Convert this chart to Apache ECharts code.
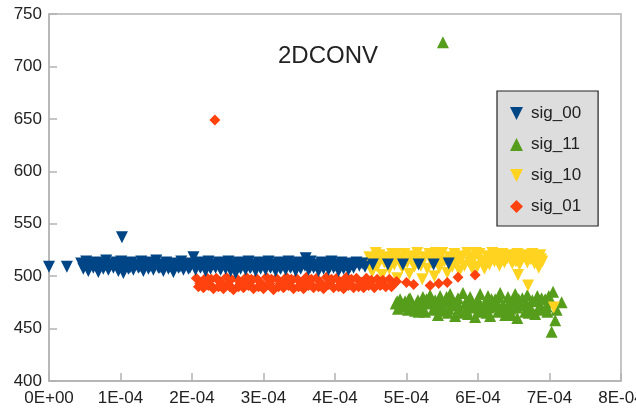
<!DOCTYPE html>
<html>
<head>
<meta charset="utf-8">
<script src="https://cdn.jsdelivr.net/npm/echarts@6/dist/echarts.min.js"></script>
<style>
  html, body { margin: 0; padding: 0; background: #fff; }
  #chart { width: 636px; height: 414px; }
</style>
</head>
<body>
<div id="chart"></div>
<script>
// x values are in units of 1E-04
const xTicks = ['0E+00', '1E-04', '2E-04', '3E-04', '4E-04', '5E-04', '6E-04', '7E-04', '8E-04']
const yTicks = [400, 450, 500, 550, 600, 650, 700, 750]

const sig00 = [
  [0.0, 509], [0.25, 509], [1.02, 537],
  [0.45, 512], [0.48, 507], [0.52, 514], [0.55, 505], [0.59, 511], [0.62, 508], [0.66, 513],
  [0.69, 504], [0.73, 512], [0.76, 507], [0.80, 515], [0.83, 506], [0.87, 511], [0.90, 508],
  [0.94, 513], [0.97, 505], [1.01, 514], [1.04, 503], [1.08, 512], [1.11, 507], [1.15, 513],
  [1.18, 506], [1.22, 511], [1.25, 508], [1.29, 514], [1.32, 505], [1.36, 512], [1.39, 507],
  [1.43, 513], [1.46, 506], [1.50, 515], [1.53, 508], [1.57, 511], [1.60, 505], [1.64, 513],
  [1.67, 507], [1.71, 512], [1.74, 504], [1.78, 511], [1.81, 508], [1.85, 514], [1.88, 506],
  [1.92, 512], [1.95, 507], [1.99, 511], [2.02, 518], [2.05, 506], [2.09, 513], [2.12, 508],
  [2.16, 512], [2.19, 505], [2.23, 514], [2.26, 507], [2.30, 511], [2.33, 508], [2.37, 513],
  [2.40, 506], [2.44, 512], [2.47, 507], [2.51, 514], [2.54, 505], [2.58, 511], [2.61, 503],
  [2.65, 513], [2.68, 507], [2.72, 512], [2.75, 506], [2.79, 514], [2.82, 508], [2.86, 511],
  [2.89, 505], [2.93, 513], [2.96, 507], [3.00, 512], [3.03, 506], [3.07, 514], [3.10, 508],
  [3.14, 511], [3.17, 505], [3.21, 513], [3.24, 507], [3.28, 512], [3.31, 506], [3.35, 514],
  [3.38, 508], [3.42, 511], [3.45, 505], [3.49, 513], [3.52, 507], [3.56, 512], [3.59, 517],
  [3.63, 506], [3.66, 514], [3.70, 508], [3.73, 511], [3.77, 505], [3.81, 513], [3.84, 507],
  [3.88, 512], [3.91, 506], [3.95, 514], [3.98, 508], [4.02, 511], [4.05, 505], [4.09, 513],
  [4.12, 507], [4.16, 512], [4.19, 506], [4.23, 511], [4.26, 508], [4.30, 513], [4.34, 510],
  [4.38, 512], [4.42, 509],
  [0.50, 510], [0.57, 509], [0.64, 511], [0.71, 508], [0.78, 510], [0.85, 509], [0.92, 511],
  [0.99, 509], [1.06, 510], [1.13, 508], [1.20, 510], [1.27, 509], [1.34, 511], [1.41, 509],
  [1.48, 510], [1.55, 508], [1.62, 510], [1.69, 509], [1.76, 511], [1.83, 509], [1.90, 510],
  [1.97, 508], [2.04, 510], [2.11, 509], [2.18, 511], [2.25, 509], [2.32, 510], [2.39, 508],
  [2.46, 510], [2.53, 509], [2.60, 511], [2.67, 509], [2.74, 510], [2.81, 508], [2.88, 510],
  [2.95, 509], [3.02, 511], [3.09, 509], [3.16, 510], [3.23, 508], [3.30, 510], [3.37, 509],
  [3.44, 511], [3.51, 509], [3.58, 510], [3.65, 508], [3.72, 510], [3.79, 509], [3.86, 511],
  [3.93, 509], [4.00, 510], [4.07, 508], [4.14, 510], [4.21, 509], [4.28, 511],
  [4.53, 511], [4.74, 511], [4.95, 511], [5.17, 511], [5.38, 511], [5.59, 512]
]

const sig11 = [
  [5.51, 723], [7.03, 447], [7.05, 485], [7.08, 458], [7.17, 475], [7.10, 468],
  [4.85, 474], [4.88, 469], [4.91, 478], [4.95, 471], [4.98, 476], [5.02, 468], [5.05, 479],
  [5.09, 472], [5.12, 467], [5.16, 477], [5.19, 470], [5.23, 480], [5.26, 466], [5.30, 474],
  [5.33, 482], [5.37, 468], [5.40, 477], [5.44, 463], [5.47, 481], [5.51, 471], [5.54, 476],
  [5.58, 465], [5.61, 483], [5.65, 472], [5.68, 462], [5.72, 479], [5.75, 469], [5.79, 484],
  [5.82, 474], [5.86, 464], [5.89, 480], [5.93, 470], [5.96, 461], [6.00, 477], [6.03, 483],
  [6.07, 467], [6.10, 474], [6.14, 481], [6.17, 462], [6.21, 471], [6.24, 478], [6.28, 466],
  [6.31, 484], [6.35, 473], [6.38, 463], [6.42, 480], [6.45, 469], [6.49, 476], [6.52, 483],
  [6.55, 460], [6.59, 472], [6.62, 479], [6.66, 466], [6.69, 482], [6.73, 470], [6.76, 477],
  [6.80, 464], [6.83, 481], [6.87, 472], [6.90, 468], [6.94, 478], [6.97, 466], [7.00, 475],
  [4.87, 476], [5.00, 473], [5.14, 474], [5.28, 478], [5.42, 470], [5.56, 480], [5.70, 475],
  [5.84, 468], [5.98, 472], [6.12, 465], [6.26, 474], [6.40, 467], [6.54, 470], [6.68, 474],
  [6.82, 476], [6.96, 471],
  [4.93, 473], [5.07, 475], [5.21, 472], [5.35, 476], [5.49, 467], [5.63, 477], [5.77, 465],
  [5.91, 476], [6.05, 471], [6.19, 478], [6.33, 469], [6.47, 463], [6.61, 475], [6.75, 467],
  [6.89, 479], [5.03, 478], [5.17, 466], [5.45, 474], [5.59, 469], [5.87, 472], [6.01, 466],
  [6.15, 470], [6.29, 480], [6.43, 474], [6.57, 478], [6.71, 465], [6.85, 469], [6.99, 481]
]

const sig10 = [
  [4.45, 512], [4.48, 518], [4.52, 504], [4.55, 515], [4.59, 509], [4.62, 520], [4.66, 501],
  [4.69, 513], [4.73, 518], [4.76, 507], [4.80, 521], [4.83, 511], [4.87, 498], [4.90, 517],
  [4.94, 508], [4.97, 521], [5.01, 513], [5.04, 502], [5.08, 519], [5.11, 509], [5.15, 522],
  [5.18, 514], [5.22, 497], [5.25, 518], [5.29, 507], [5.32, 521], [5.36, 512], [5.39, 500],
  [5.43, 519], [5.46, 508], [5.50, 522], [5.53, 514], [5.57, 503], [5.60, 518], [5.64, 509],
  [5.67, 521], [5.71, 512], [5.74, 505], [5.78, 519], [5.81, 510], [5.85, 522], [5.88, 513],
  [5.92, 507], [5.95, 518], [5.99, 509], [6.02, 521], [6.06, 512], [6.09, 507], [6.13, 519],
  [6.16, 511], [6.20, 522], [6.23, 514], [6.27, 518], [6.30, 510], [6.34, 521], [6.37, 513],
  [6.41, 517], [6.44, 520], [6.48, 512], [6.51, 518], [6.55, 521], [6.58, 511], [6.62, 517],
  [6.65, 520], [6.69, 513], [6.72, 518], [6.76, 521], [6.79, 512], [6.83, 517], [6.87, 520],
  [6.90, 514],
  [4.50, 510], [4.64, 516], [4.78, 514], [4.92, 511], [5.06, 516], [5.20, 510], [5.34, 516],
  [5.48, 514], [5.62, 513], [5.76, 516], [5.90, 517], [6.04, 515], [6.18, 516], [6.32, 517],
  [6.46, 515], [6.60, 514], [6.74, 516], [6.88, 516], [4.57, 522], [4.85, 521], [5.13, 518],
  [5.41, 522], [5.69, 517], [5.97, 522], [6.25, 521], [6.53, 514],
  [6.56, 501], [6.70, 491], [6.85, 508], [7.06, 470]
]

const sig01 = [
  [2.32, 649],
  [2.06, 498], [2.09, 490], [2.13, 494], [2.16, 489], [2.20, 499], [2.23, 491], [2.27, 497],
  [2.30, 488], [2.34, 498], [2.37, 490], [2.41, 493], [2.44, 488], [2.48, 499], [2.51, 492],
  [2.55, 497], [2.58, 487], [2.62, 498], [2.65, 490], [2.69, 494], [2.72, 489], [2.76, 499],
  [2.79, 491], [2.83, 497], [2.86, 488], [2.90, 498], [2.93, 490], [2.97, 493], [3.00, 488],
  [3.04, 499], [3.07, 492], [3.11, 497], [3.14, 487], [3.18, 498], [3.21, 490], [3.25, 494],
  [3.28, 489], [3.32, 499], [3.35, 491], [3.39, 497], [3.42, 488], [3.46, 498], [3.49, 490],
  [3.53, 494], [3.56, 488], [3.60, 499], [3.63, 491], [3.67, 497], [3.70, 489], [3.74, 498],
  [3.77, 490], [3.81, 493], [3.84, 488], [3.88, 499], [3.91, 492], [3.95, 497], [3.98, 489],
  [4.02, 498], [4.05, 490], [4.09, 494], [4.12, 488], [4.16, 499], [4.19, 491], [4.23, 497],
  [4.26, 489], [4.30, 498], [4.33, 490], [4.37, 494], [4.40, 489], [4.44, 498], [4.47, 491],
  [4.51, 496], [4.55, 489], [4.59, 497], [4.63, 491], [4.67, 496], [4.71, 490], [4.76, 497],
  [4.81, 492], [4.86, 495],
  [2.11, 493], [2.25, 492], [2.39, 495], [2.53, 490], [2.67, 492], [2.81, 494], [2.95, 491],
  [3.09, 493], [3.23, 492], [3.37, 494], [3.51, 491], [3.65, 493], [3.79, 492], [3.93, 494],
  [4.07, 491], [4.21, 493], [4.35, 492], [4.49, 493], [4.65, 492], [4.79, 490],
  [5.00, 494], [5.10, 492], [5.33, 491], [5.45, 493], [5.57, 494], [5.72, 499], [5.96, 501]
]

const chart = echarts.init(document.getElementById('chart'))
const axisColor = '#b3b3b3'
const fontFamily = 'Liberation Sans, Arial, sans-serif'
const downTriangle = 'path://M0,0L10,0L5,10Z'

chart.setOption({
  animation: false,
  title: {
    text: '2DCONV',
    left: 323,
    top: 39,
    textAlign: 'center',
    textStyle: { fontFamily, fontSize: 24, fontWeight: 'normal', color: '#222' }
  },
  grid: {
    left: 49,
    right: 15,
    top: 14,
    bottom: 33,
    outerBoundsMode: 'none',
    show: true,
    borderColor: axisColor,
    borderWidth: 1.5
  },
  legend: {
    orient: 'vertical',
    left: 497,
    top: 91,
    padding: [14, 17, 11, 13],
    itemGap: 14,
    itemWidth: 13,
    itemHeight: 13,
    backgroundColor: '#dddddd',
    borderColor: '#222',
    borderWidth: 1.2,
    textStyle: { fontFamily, fontSize: 17, color: '#222', padding: [0, 0, 0, 3] },
    data: [
      { name: 'sig_00', icon: downTriangle },
      { name: 'sig_11', icon: 'triangle' },
      { name: 'sig_10', icon: downTriangle },
      { name: 'sig_01', icon: 'diamond' }
    ]
  },
  xAxis: {
    type: 'value',
    min: 0,
    max: 8,
    interval: 1,
    splitLine: { show: false },
    axisLine: { lineStyle: { color: axisColor, width: 1.5 } },
    axisTick: { inside: true, length: 8, lineStyle: { color: axisColor, width: 1.5 } },
    axisLabel: {
      fontFamily,
      fontSize: 17,
      color: '#222',
      margin: 9,
      formatter: v => xTicks[v]
    }
  },
  yAxis: {
    type: 'value',
    min: yTicks[0],
    max: yTicks[yTicks.length - 1],
    interval: 50,
    splitLine: { show: false },
    axisLine: { show: true, lineStyle: { color: axisColor, width: 1.5 } },
    axisTick: { show: true, inside: true, length: 8, lineStyle: { color: axisColor, width: 1.5 } },
    axisLabel: { fontFamily, fontSize: 17, color: '#222', margin: 7 }
  },
  series: [
    {
      name: 'sig_00',
      type: 'scatter',
      z: 5,
      symbol: 'triangle',
      symbolRotate: 180,
      symbolSize: 12,
      itemStyle: { color: '#004586', opacity: 1 },
      data: sig00
    },
    {
      name: 'sig_11',
      type: 'scatter',
      z: 2,
      symbol: 'triangle',
      symbolSize: 12,
      itemStyle: { color: '#579d1c', opacity: 1 },
      data: sig11
    },
    {
      name: 'sig_10',
      type: 'scatter',
      z: 3,
      symbol: 'triangle',
      symbolRotate: 180,
      symbolSize: 12,
      itemStyle: { color: '#ffd320', opacity: 1 },
      data: sig10
    },
    {
      name: 'sig_01',
      type: 'scatter',
      z: 4,
      symbol: 'diamond',
      symbolSize: 11,
      itemStyle: { color: '#ff420e', opacity: 1 },
      data: sig01
    }
  ]
})
</script>
</body>
</html>
